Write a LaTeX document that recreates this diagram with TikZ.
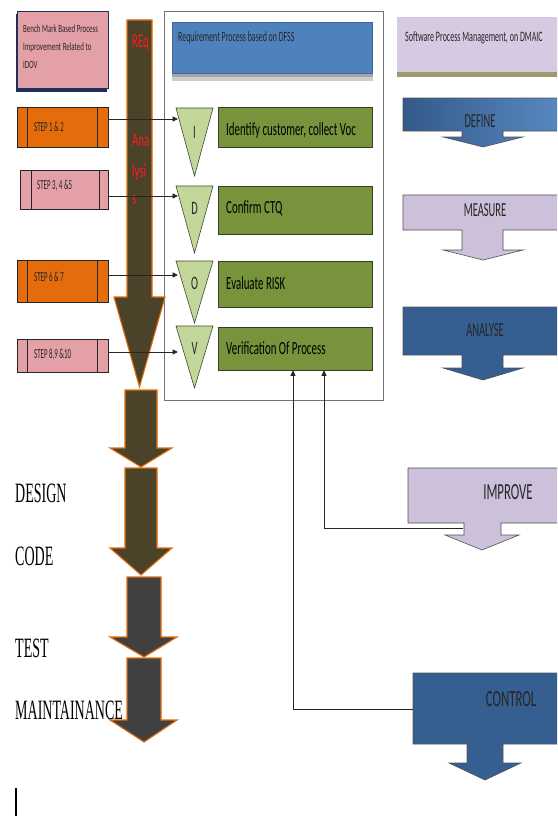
\documentclass[tikz,border=0pt]{standalone}
\usepackage{fontspec}
\setmainfont{Carlito}
\newfontfamily\serifface{Liberation Serif}
\usetikzlibrary{arrows.meta}
\newcommand\tall[2][1.8]{\scalebox{1}[#1]{#2}}
\newcommand\fs[1]{\fontsize{#1}{#1}\selectfont}
\definecolor{pinkbox}{HTML}{E4A0A7}
\definecolor{orangebox}{HTML}{E46C0A}
\definecolor{olivearrow}{HTML}{4A4229}
\definecolor{grayarrow}{HTML}{404040}
\definecolor{greenbox}{HTML}{77933C}
\definecolor{greentri}{HTML}{C4D79B}
\definecolor{bluehead}{HTML}{4F81BD}
\definecolor{lavender}{HTML}{CCC0DA}
\definecolor{lavhead}{HTML}{D6C9E1}
\definecolor{darkblue}{HTML}{365F91}
\definecolor{navy}{HTML}{1F2F5A}
\definecolor{inktext}{HTML}{262626}
\definecolor{reqred}{HTML}{FF1A1A}
\begin{document}
\begin{tikzpicture}[x=1pt,y=-1pt,
  stepbox/.style={draw=inktext,line width=0.6pt,inner sep=0pt},
  steplabel/.style={anchor=west,text=inktext,inner sep=0pt,font=\fs{6.9}},
  greenrect/.style={draw=inktext!80!greenbox,line width=0.7pt,fill=greenbox,inner sep=0pt,minimum width=154pt},
  greenlabel/.style={anchor=west,text=black,inner sep=0pt,font=\fs{10.9}},
  tri/.style={draw=inktext!70!greenbox,line width=0.6pt,fill=greentri},
  trilabel/.style={text=inktext,inner sep=0pt,font=\fs{10.5}},
  bigarrow/.style={draw=orangebox,line width=1.1pt,line join=miter},
  phase/.style={anchor=west,inner sep=0pt,font=\serifface\fs{14}},
  dmaic/.style={draw=inktext!80,line width=0.6pt},
  dmaiclabel/.style={text=inktext,inner sep=0pt,font=\fs{10.5}},
  conn/.style={draw=black!85,line width=0.8pt,-{Triangle[length=5.5pt,width=5pt]}},
  redlabel/.style={anchor=west,text=reqred,inner sep=0pt,font=\fs{10.8}}
]
\useasboundingbox (0,0) rectangle (557,816);
\clip (0,0) rectangle (557,816);

% ---------- left header ----------
\fill[navy] (16,14) rectangle (107,92);
\node[draw=navy,line width=0.6pt,fill=pinkbox,minimum width=91pt,minimum height=77pt,inner sep=0pt] (bench) at (62.5,49.5) {};
\node[anchor=west,inner sep=0pt,text=inktext] (benchtxt) at (23,47)
  {\tall[1.6]{\fontsize{6.9}{11.4}\selectfont\begin{tabular}{@{}l@{}}Bench Mark Based Process\\Improvement Related to\\IDOV\end{tabular}}};

% ---------- central frame ----------
\node[draw=black!55,line width=0.7pt,fill=white,minimum width=219pt,minimum height=389pt,inner sep=0pt] (frm) at (273.5,205.5) {};
\fill[black!35] (172,73) rectangle (373,80);
\fill[black!20] (172,77) rectangle (373,81);
\node[fill=bluehead,draw=bluehead!80!black,line width=0.4pt,minimum width=200pt,minimum height=51pt,inner sep=0pt] (dfss) at (272,47.5) {};
\node[anchor=west,inner sep=0pt,text=inktext,font=\fs{7.9}] (dfsstxt) at (178,38) {\tall{Requirement Process based on DFSS}};

% ---------- big olive arrows ----------
\draw[bigarrow,fill=olivearrow] (127,20) -- (152,20) -- (152,297) -- (165,297) -- (139.5,387) -- (114,297) -- (127,297) -- cycle;
\draw[bigarrow,fill=olivearrow] (125,390) -- (157,390) -- (157,448) -- (172,448) -- (141,467) -- (110,448) -- (125,448) -- cycle;
\draw[bigarrow,fill=olivearrow] (125,468) -- (157,468) -- (157,548) -- (172,548) -- (141,575) -- (110,548) -- (125,548) -- cycle;
\draw[bigarrow,fill=grayarrow] (127,577) -- (161,577) -- (161,637) -- (177,637) -- (144,657) -- (110,637) -- (127,637) -- cycle;
\draw[bigarrow,fill=grayarrow] (127,658) -- (161,658) -- (161,720) -- (177,720) -- (144,742) -- (110,720) -- (127,720) -- cycle;

\node[redlabel] (req) at (132,43) {\tall{REq}};
\node[redlabel] (ana1) at (132,140) {\tall{Ana}};
\node[redlabel] (ana2) at (132,172) {\tall{lysi}};
\node[redlabel] (ana3) at (132,200) {\tall{s}};

% ---------- step boxes ----------
\node[stepbox,fill=orangebox,minimum width=91pt,minimum height=40pt] (s1) at (62.5,127) {};
\node[stepbox,fill=pinkbox,minimum width=88pt,minimum height=39pt] (s2) at (64,189.5) {};
\node[stepbox,fill=orangebox,minimum width=91pt,minimum height=42pt] (s3) at (62.5,281) {};
\node[stepbox,fill=pinkbox,minimum width=91pt,minimum height=33pt] (s4) at (62.5,355.5) {};
\foreach \b/\l/\r in {s1/11/11,s2/12/9,s3/11/11,s4/11/11}{
  \draw[inktext,line width=0.6pt] ([xshift=\l pt]\b.north west) -- ([xshift=\l pt]\b.south west);
  \draw[inktext,line width=0.6pt] ([xshift=-\r pt]\b.north east) -- ([xshift=-\r pt]\b.south east);
}
\node[steplabel] (s1t) at (34,127) {\tall[2]{STEP 1 \& 2}};
\node[steplabel] (s2t) at (37,186) {\tall[2]{STEP 3, 4 \&5}};
\node[steplabel] (s3t) at (34,277) {\tall[2]{STEP 6 \& 7}};
\node[steplabel] (s4t) at (34,355) {\tall[2]{STEP 8,9 \&10}};

% ---------- IDOV triangles and green boxes ----------
\draw[tri] (176,108) -- (213,108) -- (194.5,176) -- cycle;
\draw[tri] (176,186) -- (213,186) -- (194.5,253) -- cycle;
\draw[tri] (176,261) -- (213,261) -- (194.5,323) -- cycle;
\draw[tri] (176,326) -- (213,326) -- (194.5,388) -- cycle;
\node[trilabel] (li) at (194.5,132) {\tall{I}};
\node[trilabel] (ld) at (194.5,208) {\tall{D}};
\node[trilabel] (lo) at (194.5,283) {\tall{O}};
\node[trilabel] (lv) at (194.5,348) {\tall{V}};
\coordinate (ti) at (178,119);
\coordinate (td) at (178,196);
\coordinate (to) at (178,275);
\coordinate (tv) at (178,352);

\node[greenrect,minimum height=40pt] (gi) at (295,127) {};
\node[greenrect,minimum height=48pt] (gd) at (295,210) {};
\node[greenrect,minimum height=46pt] (go) at (295,284) {};
\node[greenrect,minimum height=43pt] (gv) at (295,348.5) {};
\node[greenlabel] (gti) at (226,131) {\tall[1.7]{Identify customer, collect Voc}};
\node[greenlabel] (gtd) at (226,208) {\tall[1.7]{Confirm CTQ}};
\node[greenlabel] (gto) at (226,283) {\tall[1.7]{Evaluate RISK}};
\node[greenlabel] (gtv) at (226,348) {\tall[1.7]{Verification Of Process}};

% step boxes feed the IDOV phases
\draw[conn] (s1.east |- ti) -- (ti);
\draw[conn] (s2.east |- td) -- (td);
\draw[conn] (s3.east |- to) -- (to);
\draw[conn] (s4.east |- tv) -- (tv);

% ---------- life-cycle phases ----------
\node[phase] (design) at (15,493) {\tall[2]{DESIGN}};
\node[phase] (code) at (15,556) {\tall[2]{CODE}};
\node[phase] (test) at (15,648) {\tall[2]{TEST}};
\node[phase] (maint) at (15,710) {\tall[2]{MAINTAINANCE}};

% ---------- DMAIC column ----------
\fill[black!45!olive!60] (397,71) rectangle (558,77);
\node[fill=lavhead,minimum width=161pt,minimum height=55pt,inner sep=0pt] (dmaichead) at (477.5,44.5) {};
\node[anchor=west,inner sep=0pt,text=inktext,font=\fs{8}] (dmaictxt) at (405,38) {\tall{Software Process Management, on DMAIC}};

\shade[left color=darkblue!95!black,right color=bluehead!95!white,draw=inktext!80,line width=0.6pt]
  (403,98) -- (558,98) -- (558,131) -- (503,131) -- (503,137) -- (523,137) -- (483,147) -- (443,137) -- (462,137) -- (462,131) -- (403,131) -- cycle;
\draw[dmaic,fill=lavender]
  (403,195) -- (558,195) -- (558,230) -- (503,230) -- (503,250) -- (523,250) -- (483,260) -- (443,250) -- (462,250) -- (462,230) -- (403,230) -- cycle;
\draw[dmaic,fill=darkblue]
  (403,307) -- (558,307) -- (558,355) -- (503,355) -- (503,368) -- (523,368) -- (483,380) -- (443,368) -- (462,368) -- (462,355) -- (403,355) -- cycle;
\draw[dmaic,fill=lavender]
  (408,468) -- (558,468) -- (558,523) -- (501,523) -- (501,535) -- (519,535) -- (482,550) -- (445,535) -- (464,535) -- (464,523) -- (408,523) -- cycle;
\draw[dmaic,fill=darkblue]
  (413,673) -- (558,673) -- (558,744) -- (503,744) -- (503,763) -- (521,763) -- (485,780) -- (449,763) -- (467,763) -- (467,744) -- (413,744) -- cycle;

\node[dmaiclabel] (define) at (480,121) {\tall[1.9]{DEFINE}};
\node[dmaiclabel] (measure) at (485,210) {\tall[1.9]{MEASURE}};
\node[dmaiclabel] (analyse) at (485,330) {\tall[1.9]{ANALYSE}};
\node[dmaiclabel,font=\fs{12.8}] (improve) at (508,492) {\tall[1.8]{IMPROVE}};
\node[dmaiclabel,font=\fs{12.8}] (control) at (511,699) {\tall[1.8]{CONTROL}};

% feedback from IMPROVE and CONTROL to the verification step
\coordinate (impout) at (463,528);
\coordinate (ctlout) at (413,709);
\draw[conn] (impout) -| ([xshift=29pt]gv.south);
\draw[conn] (ctlout) -| ([xshift=-2pt]gv.south);

% text cursor mark
\draw[black,line width=1.3pt] (16,788) -- (16,816);
\end{tikzpicture}
\end{document}
